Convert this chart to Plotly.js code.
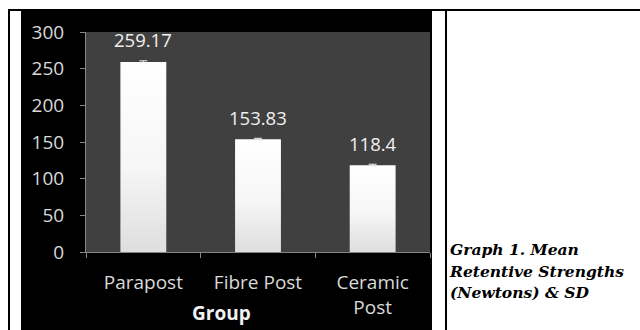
<!DOCTYPE html>
<html>
<head>
<meta charset="utf-8">
<script src="https://cdn.plot.ly/plotly-3.0.1.min.js"></script>
<style>
  html, body { margin: 0; padding: 0; background: #ffffff; width: 640px; height: 330px; overflow: hidden; }
  #frameTop { position: absolute; left: 8px; top: 9px; width: 632px; height: 2px; background: #000; }
  #frameLeft { position: absolute; left: 8px; top: 9px; width: 2px; height: 321px; background: #000; }
  #frameMid { position: absolute; left: 445px; top: 9px; width: 2px; height: 321px; background: #000; }
  #chart { position: absolute; left: 21px; top: 10px; width: 411px; height: 320px; }
  #caption { position: absolute; left: 450px; top: 239px; width: 190px;
    font-family: "DejaVu Serif", serif; font-weight: bold; font-style: italic;
    font-size: 15.5px; line-height: 21.5px; color: #000; white-space: nowrap; }
</style>
</head>
<body>
<div id="frameTop"></div>
<div id="frameLeft"></div>
<div id="frameMid"></div>
<div id="chart"></div>
<div id="caption">Graph 1. Mean<br>Retentive Strengths<br>(Newtons) &amp; SD</div>
<script>
const categories = ["Parapost", "Fibre Post", "Ceramic<br>Post"];
const meanValues = [259.17, 153.83, 118.4];
const sdValues = [1.5, 1.2, 1.3];
const valueLabels = ["259.17", "153.83", "118.4"];
const yTickVals = [0, 50, 100, 150, 200, 250, 300];

const labelFont = { family: "Open Sans, sans-serif", size: 19, color: "#d9d9d9" };

const trace = {
  type: "bar",
  x: categories,
  y: meanValues,
  width: 0.4,
  marker: { color: "#f4f4f4", line: { width: 0 } },
  error_y: { type: "data", array: sdValues, visible: true, color: "#f2f2f2", thickness: 1, width: 4 },
  hoverinfo: "none"
};

const annotations = categories.map((c, i) => ({
  x: c, y: meanValues[i], xref: "x", yref: "y",
  text: valueLabels[i], showarrow: false, yanchor: "middle", yshift: 22,
  font: { family: "Open Sans, sans-serif", size: 18.5, color: "#f0f0f0" }
}));
annotations.push({
  x: 0.395, y: 0, xref: "paper", yref: "paper", yanchor: "middle", yshift: -61,
  text: "Group", showarrow: false,
  font: { family: "Open Sans, sans-serif", size: 19, color: "#f2f2f2", weight: "bold" }
});

const layout = {
  width: 411, height: 320,
  margin: { l: 65, r: 2, t: 22, b: 78, pad: 0 },
  paper_bgcolor: "#000000",
  plot_bgcolor: "#404040",
  showlegend: false,
  bargap: 0.6,
  xaxis: {
    type: "category",
    tickson: "boundaries",
    ticks: "outside", ticklen: 5, tickcolor: "#868686", tickwidth: 1,
    showline: true, linecolor: "#868686", linewidth: 1,
    showgrid: false, zeroline: false,
    tickfont: labelFont,
    ticklabelstandoff: 13
  },
  yaxis: {
    range: [0, 300],
    tickvals: yTickVals,
    ticks: "outside", ticklen: 5, tickcolor: "#868686", tickwidth: 1,
    showline: true, linecolor: "#868686", linewidth: 1,
    showgrid: false, zeroline: false,
    tickfont: labelFont,
    ticklabelstandoff: 12
  },
  annotations: annotations
};

Plotly.newPlot("chart", [trace], layout, { staticPlot: true, displayModeBar: false }).then(function (gd) {
  const svgNS = "http://www.w3.org/2000/svg";
  const svg = gd.querySelector("svg.main-svg");
  let defs = svg.querySelector("defs");
  if (!defs) { defs = document.createElementNS(svgNS, "defs"); svg.insertBefore(defs, svg.firstChild); }
  const grad = document.createElementNS(svgNS, "linearGradient");
  grad.setAttribute("id", "barGrad");
  grad.setAttribute("x1", "0"); grad.setAttribute("y1", "0");
  grad.setAttribute("x2", "0"); grad.setAttribute("y2", "1");
  [["0", "#ffffff"], ["0.55", "#f6f6f6"], ["1", "#dedede"]].forEach(function (s) {
    const st = document.createElementNS(svgNS, "stop");
    st.setAttribute("offset", s[0]); st.setAttribute("stop-color", s[1]);
    grad.appendChild(st);
  });
  defs.appendChild(grad);
  gd.querySelectorAll(".bars .point path").forEach(function (p) { p.style.fill = "url(#barGrad)"; });
});
</script>
</body>
</html>
